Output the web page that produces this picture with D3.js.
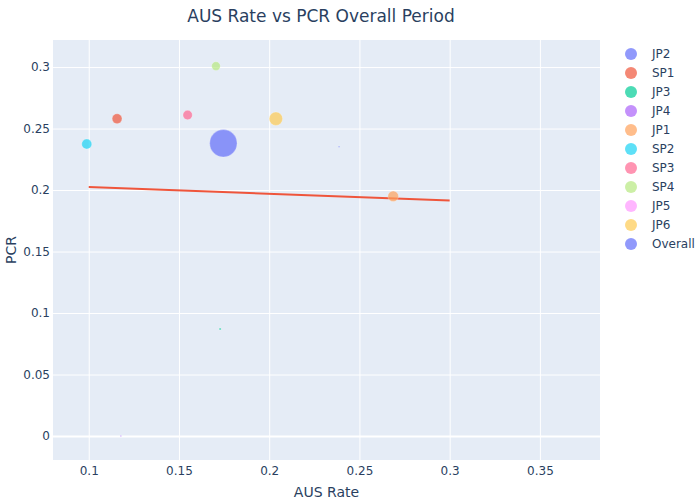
<!DOCTYPE html>
<html>
<head>
<meta charset="utf-8">
<script src="https://cdn.jsdelivr.net/npm/d3@7"></script>
<style>
  body { margin: 0; background: #fff; }
  svg { font-family: "DejaVu Sans", verdana, arial, sans-serif; }
</style>
</head>
<body>
<div id="chart"></div>
<script>
// Data
const groups   = ["JP2", "SP1", "JP3", "JP4", "JP1", "SP2", "SP3", "SP4", "JP5", "JP6", "Overall"];
const ausRate  = [0.2387, 0.1157, 0.1728, 0.1178, 0.2687, 0.0989, 0.1548, 0.1705, 0.1178, 0.2037, 0.1746];
const pcr      = [0.2352, 0.2580, 0.0870, 0.0000, 0.1949, 0.2374, 0.2610, 0.3008, 0.0000, 0.2580, 0.2380];
const sizes    = [0.3, 13, 0.6, 0.3, 15, 13.5, 11.7, 10, 0, 24, 100];
const colors   = ["#636efa", "#EF553B", "#00cc96", "#ab63fa", "#FFA15A", "#19d3f3", "#FF6692", "#B6E880", "#FF97FF", "#FECB52", "#636efa"];

// fitted line
const trendX = [0.1, 0.3];
const trendY = [0.2025, 0.1915];

const xTicks = [0.1, 0.15, 0.2, 0.25, 0.3, 0.35];
const yTicks = [0, 0.05, 0.1, 0.15, 0.2, 0.25, 0.3];

const width = 700, height = 500;
const plot = { left: 53, right: 600, top: 40, bottom: 460 };
const textColor = "#2a3f5f";
const font = "'DejaVu Sans', verdana, arial, sans-serif";

const svg = d3.select("#chart").append("svg")
    .attr("width", width)
    .attr("height", height);

const x = d3.scaleLinear().domain([0.0802, 0.3833]).range([plot.left, plot.right]);
const y = d3.scaleLinear().domain([-0.0195, 0.322]).range([plot.bottom, plot.top]);
const r = d3.scaleSqrt().domain([0, 100]).range([0, 13.7]);
const fmt = d3.format("~g");

// plot background
svg.append("rect")
    .attr("x", plot.left).attr("y", plot.top)
    .attr("width", plot.right - plot.left)
    .attr("height", plot.bottom - plot.top)
    .attr("fill", "#e5ecf6");

// grid lines via axes
const xGrid = svg.append("g")
    .attr("transform", `translate(0,${plot.bottom})`)
    .call(d3.axisBottom(x).tickValues(xTicks).tickSize(-(plot.bottom - plot.top)).tickFormat(""));
const yGrid = svg.append("g")
    .attr("transform", `translate(${plot.left},0)`)
    .call(d3.axisLeft(y).tickValues(yTicks).tickSize(-(plot.right - plot.left)).tickFormat(""));
[xGrid, yGrid].forEach(g => {
    g.select(".domain").remove();
    g.selectAll(".tick line").attr("stroke", "#fff").attr("stroke-width", 1);
});
// zero line a bit heavier
yGrid.selectAll(".tick").filter(d => d === 0).select("line").attr("stroke-width", 2);

// tick labels
const xAxis = svg.append("g")
    .attr("transform", `translate(0,${plot.bottom})`)
    .call(d3.axisBottom(x).tickValues(xTicks).tickSize(0).tickPadding(6).tickFormat(fmt));
const yAxis = svg.append("g")
    .attr("transform", `translate(${plot.left},0)`)
    .call(d3.axisLeft(y).tickValues(yTicks).tickSize(0).tickPadding(3).tickFormat(fmt));
[xAxis, yAxis].forEach(g => {
    g.select(".domain").remove();
    g.selectAll("text")
        .attr("fill", textColor)
        .style("font-size", "12px")
        .style("font-family", font);
});

// trend line
svg.append("path")
    .datum(trendX.map((v, i) => [v, trendY[i]]))
    .attr("d", d3.line().x(d => x(d[0])).y(d => y(d[1])))
    .attr("fill", "none")
    .attr("stroke", "#EF553B")
    .attr("stroke-width", 2);

// bubbles
svg.append("g").selectAll("circle")
    .data(groups.map((g, i) => i))
    .join("circle")
    .attr("cx", i => x(ausRate[i]))
    .attr("cy", i => y(pcr[i]))
    .attr("r", i => r(sizes[i]))
    .attr("fill", i => colors[i])
    .attr("fill-opacity", 0.7)
    .attr("stroke", "#fff")
    .attr("stroke-opacity", 0.5)
    .attr("stroke-width", 0.5);

// title
svg.append("text")
    .attr("x", 321).attr("y", 22)
    .attr("text-anchor", "middle")
    .attr("fill", textColor)
    .style("font-size", "17px")
    .text("AUS Rate vs PCR Overall Period");

// axis titles
svg.append("text")
    .attr("x", (plot.left + plot.right) / 2).attr("y", 497)
    .attr("text-anchor", "middle")
    .attr("fill", textColor)
    .style("font-size", "14px")
    .text("AUS Rate");

svg.append("text")
    .attr("transform", `translate(16,${(plot.top + plot.bottom) / 2}) rotate(-90)`)
    .attr("text-anchor", "middle")
    .attr("fill", textColor)
    .style("font-size", "14px")
    .text("PCR");

// legend
const legend = svg.append("g").attr("transform", "translate(631,54)");
const item = legend.selectAll("g")
    .data(groups)
    .join("g")
    .attr("transform", (d, i) => `translate(0,${i * 19})`);
item.append("circle")
    .attr("r", 6)
    .attr("fill", (d, i) => colors[i])
    .attr("fill-opacity", 0.7);
item.append("text")
    .attr("x", 21).attr("dy", "0.35em")
    .attr("fill", textColor)
    .style("font-size", "12px")
    .text(d => d);
</script>
</body>
</html>
